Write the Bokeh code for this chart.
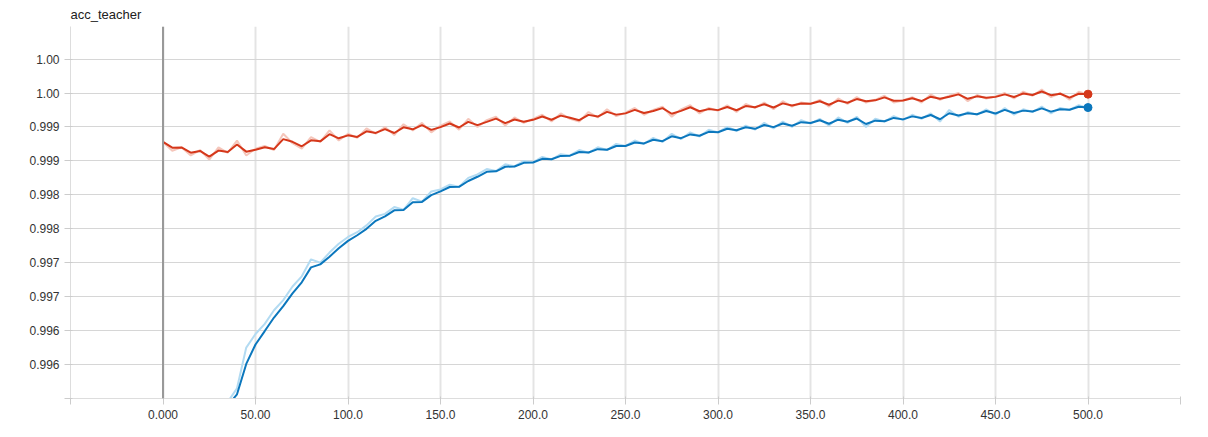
from bokeh.plotting import figure
from bokeh.models import FixedTicker, Span
from bokeh.embed import file_html
from bokeh.resources import INLINE

# raw values, every 5 steps
red_steps = list(range(0, 505, 5))
red_raw = [
    0.99878, 0.99865, 0.99870, 0.99858, 0.99866, 0.99852, 0.99870, 0.99862, 0.99880, 0.99858, 0.99868,
    0.99872, 0.99866, 0.99890, 0.99876, 0.99868, 0.99885, 0.99878, 0.99895, 0.99880, 0.99890,
    0.99884, 0.99898, 0.99890, 0.99900, 0.99888, 0.99904, 0.99895, 0.99906, 0.99892, 0.99902,
    0.99908, 0.99896, 0.99912, 0.99900, 0.99910, 0.99915, 0.99902, 0.99914, 0.99906, 0.99912,
    0.99918, 0.99908, 0.99920, 0.99912, 0.99908, 0.99922, 0.99914, 0.99926, 0.99916, 0.99921,
    0.99928, 0.99918, 0.99925, 0.99930, 0.99915, 0.99926, 0.99932, 0.99920, 0.99928, 0.99924,
    0.99932, 0.99922, 0.99934, 0.99928, 0.99936, 0.99926, 0.99938, 0.99930, 0.99936, 0.99934,
    0.99940, 0.99930, 0.99942, 0.99934, 0.99944, 0.99936, 0.99940, 0.99946, 0.99936, 0.99939,
    0.99944, 0.99936, 0.99948, 0.99940, 0.99946, 0.99950, 0.99938, 0.99947, 0.99942, 0.99945,
    0.99950, 0.99942, 0.99952, 0.99946, 0.99955, 0.99944, 0.99950, 0.99940, 0.99952, 0.99948,
]

blue_steps = list(range(30, 505, 5))
blue_raw = [
    0.99480, 0.99495, 0.99515, 0.99575, 0.99595,
    0.99610, 0.99630, 0.99645, 0.99665, 0.99680, 0.99705, 0.99700, 0.99715, 0.99728, 0.99738,
    0.99745, 0.99755, 0.99768, 0.99772, 0.99782, 0.99778, 0.99795, 0.99790, 0.99805, 0.99808,
    0.99815, 0.99812, 0.99825, 0.99830, 0.99838, 0.99835, 0.99845, 0.99842, 0.99850, 0.99848,
    0.99856, 0.99852, 0.99860, 0.99858, 0.99866, 0.99862, 0.99870, 0.99866, 0.99875, 0.99872,
    0.99880, 0.99875, 0.99884, 0.99878, 0.99890, 0.99882, 0.99892, 0.99886, 0.99896, 0.99892,
    0.99900, 0.99894, 0.99902, 0.99896, 0.99906, 0.99898, 0.99908, 0.99900, 0.99910, 0.99905,
    0.99912, 0.99902, 0.99914, 0.99906, 0.99915, 0.99900, 0.99912, 0.99908, 0.99916, 0.99910,
    0.99918, 0.99912, 0.99920, 0.99908, 0.99925, 0.99915, 0.99922, 0.99918, 0.99926, 0.99918,
    0.99928, 0.99918, 0.99926, 0.99922, 0.99930, 0.99920, 0.99928, 0.99925, 0.99932, 0.99928,
]

x_ticks = [-50, 0, 50, 100, 150, 200, 250, 300, 350, 400, 450, 500, 550]
x_labels = ["", "0.000", "50.00", "100.0", "150.0", "200.0", "250.0", "300.0", "350.0", "400.0", "450.0", "500.0", ""]
y_ticks = [0.995, 0.9955, 0.996, 0.9965, 0.997, 0.9975, 0.998, 0.9985, 0.999, 0.9995, 1.0]
y_labels = ["", "0.996", "0.996", "0.997", "0.997", "0.998", "0.998", "0.999", "0.999", "1.00", "1.00"]


def smooth(vals, w=0.35):
    # tensorboard style exponential smoothing
    out, last = [], vals[0]
    for v in vals:
        last = last * w + v * (1 - w)
        out.append(last)
    return out


p = figure(width=1192, height=421, x_range=(-50, 550), y_range=(0.995, 1.00048),
           output_backend="svg", toolbar_location=None, title="acc_teacher",
           min_border_left=70, min_border_right=12, min_border_bottom=19, min_border_top=0)
p.title.text_font = "Liberation Sans"
p.title.text_font_size = "13px"
p.title.text_font_style = "normal"
p.title.text_color = "#212121"
p.title.standoff = 9
p.outline_line_color = None

for ax in (p.xaxis, p.yaxis):
    ax.axis_line_color = "#dddddd"
    ax.major_tick_line_color = "#cccccc"
    ax.minor_tick_line_color = None
    ax.major_label_text_font = "Liberation Sans"
    ax.major_label_text_font_size = "12px"
    ax.major_label_text_color = "#333333"
p.xaxis.ticker = FixedTicker(ticks=x_ticks)
p.xaxis.major_label_overrides = dict(zip(x_ticks, x_labels))
p.yaxis.ticker = FixedTicker(ticks=y_ticks)
p.yaxis.major_label_overrides = dict(zip(y_ticks, y_labels))
p.xgrid.grid_line_color = "#e4e4e4"
p.xgrid.grid_line_width = 2
p.ygrid.grid_line_color = "#d6d6d6"

p.add_layout(Span(location=0, dimension="height", line_color="#999999", line_width=2))

p.line(red_steps, red_raw, line_color="#f5c6bb", line_width=2)
p.line(blue_steps, blue_raw, line_color="#b3dbf2", line_width=2)
red_s = smooth(red_raw)
blue_s = smooth(blue_raw)
p.line(red_steps, red_s, line_color="#d5371a", line_width=2)
p.line(blue_steps, blue_s, line_color="#0b77bd", line_width=2)
p.scatter([red_steps[-1]], [red_s[-1]], size=8, color="#d5371a")
p.scatter([blue_steps[-1]], [blue_s[-1]], size=8, color="#0b77bd")

open("out.html", "w").write(file_html(p, INLINE))
